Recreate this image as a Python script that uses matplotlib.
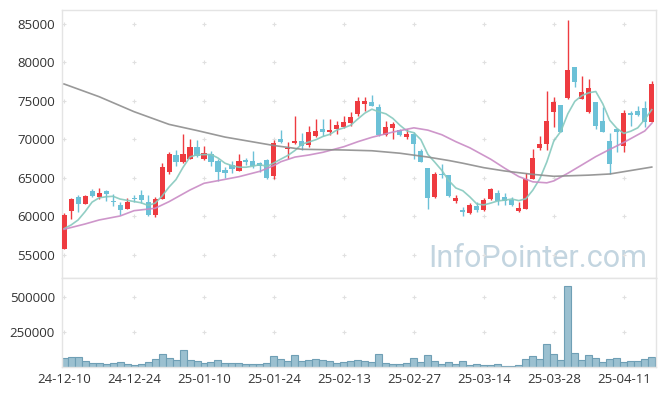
import matplotlib
matplotlib.use('Agg')
import matplotlib.pyplot as plt
import numpy as np
import pandas as pd

plt.rcParams['font.family'] = ['Open Sans', 'DejaVu Sans']

# KRX trading days, Dec 10 2024 .. Apr 17 2025
holidays = ['2024-12-25', '2024-12-31', '2025-01-01', '2025-01-27', '2025-01-28',
            '2025-01-29', '2025-01-30', '2025-03-03']
dates = pd.bdate_range('2024-12-10', '2025-04-17', freq='C', holidays=holidays)

opens = [55800, 60700, 62500, 61600, 63300, 62500, 63300, 62000, 61500, 61000,
         62400, 62800, 61900, 60200, 62300, 65800, 68000, 67000, 67500, 69000,
         67400, 68100, 67200, 66000, 66700, 65900, 67300, 67200, 66900, 67300,
         65300, 70100, 68700, 69500, 69800, 69300, 70400, 71400, 70900, 71400,
         71600, 72100, 73300, 74600, 74900, 74200, 70600, 71500, 71200, 70300,
         70700, 68500, 66300, 62500, 65500, 65400, 62000, 60800, 60400, 61300,
         60800, 62300, 63000, 62500, 62100, 60700, 61000, 64900, 68900, 69400,
         73600, 74500, 75400, 79400, 75300, 73500, 74900, 72400, 69800, 71300,
         69100, 73400, 73700, 74100, 72300]
highs = [60400, 62400, 62800, 62800, 63500, 63700, 63400, 62900, 61800, 62400,
         62800, 63400, 62800, 62500, 66900, 68400, 68600, 70700, 70000, 69900,
         69100, 68500, 67500, 66400, 67200, 68100, 67600, 68500, 67100, 67400,
         69900, 71200, 69600, 73000, 70800, 71800, 72600, 72700, 72600, 72400,
         73000, 73500, 75500, 75500, 75800, 74600, 72400, 72300, 71400, 71400,
         71000, 68800, 66300, 65800, 66800, 65400, 62800, 61200, 61700, 61900,
         62400, 63700, 63400, 63000, 62500, 61800, 65600, 68700, 70400, 76300,
         75500, 74500, 85500, 79400, 78300, 77900, 74900, 74200, 70800, 71400,
         73800, 73700, 74400, 75000, 77600]
lows = [55700, 59700, 60600, 61600, 62500, 62200, 62000, 61400, 60200, 61000,
        61900, 61700, 60000, 59900, 62200, 65500, 66600, 66900, 67400, 67700,
        67300, 66600, 64600, 65000, 65600, 65900, 66700, 66300, 65800, 64900,
        64800, 69500, 67400, 69400, 68600, 69000, 70300, 70400, 70600, 70700,
        71500, 71700, 73100, 73700, 74300, 70500, 70500, 70100, 70500, 70100,
        67500, 67000, 61000, 62400, 65000, 62500, 61700, 60100, 60300, 60600,
        60700, 62100, 61500, 61500, 61400, 60600, 60900, 64800, 68600, 68600,
        71600, 70900, 75300, 76800, 75200, 73400, 71300, 70900, 65500, 68400,
        68400, 71700, 73100, 71600, 72200]
closes = [60200, 62200, 61600, 62600, 62600, 63000, 62900, 61900, 60800, 61800,
          62200, 62100, 60200, 62200, 66400, 68100, 67000, 68100, 69000, 67800,
          68200, 67100, 65800, 65600, 66200, 67200, 67100, 66500, 66600, 65000,
          69500, 69600, 68900, 69800, 69100, 70900, 71100, 71000, 71200, 71900,
          72300, 72900, 75000, 75000, 74400, 70600, 71600, 72000, 70600, 70700,
          69400, 67100, 62400, 65500, 65400, 62700, 62400, 60600, 61500, 60800,
          62100, 63600, 62000, 62000, 61500, 61100, 64800, 67600, 69400, 72400,
          74800, 71000, 79000, 77500, 76100, 76700, 71800, 71000, 66800, 70900,
          73400, 73200, 73200, 72300, 77200]
volumes = [64, 71, 71, 45, 29, 29, 21, 29, 36, 21,
           14, 21, 36, 57, 93, 64, 52, 121, 52, 43,
           29, 36, 50, 29, 29, 29, 21, 26, 21, 29,
           79, 57, 43, 86, 43, 50, 57, 50, 43, 29,
           36, 43, 52, 43, 36, 93, 29, 21, 21, 29,
           64, 36, 86, 43, 21, 36, 21, 43, 14, 21,
           14, 14, 21, 7, 7, 14, 57, 79, 57, 164,
           93, 50, 579, 100, 50, 86, 64, 36, 57, 64,
           36, 43, 43, 57, 71]
volumes = [v * 1000 for v in volumes]

# closes before the window, needed for the first 5-day averages
prev_closes = [59850, 58350, 57200, 56400]

# 20-day and 60-day averages
ma20_idx = [0, 3, 5, 8, 10, 13, 15, 18, 20, 22, 25, 28, 30, 31, 33, 35, 37, 40, 42,
            44, 47, 50, 52, 54, 56, 58, 61, 63, 65, 67, 69, 70, 72, 74, 76, 78, 80,
            82, 83, 84]
ma20 = [58310, 59000, 59520, 60040, 60730, 61040, 61900, 63420, 64290, 64630,
        65150, 65850, 66600, 67100, 67700, 67970, 68320, 69050, 69700, 70270,
        70950, 71500, 71200, 70600, 69700, 68900, 67410, 66240, 65160, 64480,
        64350, 64600, 65590, 66670, 67760, 68700, 69600, 70600, 71090, 72090]
ma60_idx = [0, 5, 10, 15, 19, 23, 30, 34, 40, 44, 48, 52, 55, 57, 60, 63, 67, 70,
            75, 78, 81, 84]
ma60 = [77200, 75550, 73600, 71950, 71150, 70300, 69200, 68710, 68620, 68520,
        68200, 67700, 67250, 66900, 66320, 65890, 65450, 65200, 65350, 65500,
        65950, 66400]

red = '#ee3b40'
blue = '#6cc1d7'
grid_c = '#e0e0e0'
spine_c = '#e4e4e4'
text_c = '#333333'

o = np.array(opens)
c = np.array(closes)
x = np.arange(len(dates))
ma5 = pd.Series(prev_closes + closes).rolling(5).mean().values[len(prev_closes):]

fig = plt.figure(figsize=(6.65, 3.96), dpi=100)
ax = fig.add_axes([0.0932, 0.298, 0.8932, 0.6768])
axv = fig.add_axes([0.0932, 0.0725, 0.8932, 0.2255], sharex=ax)

col = np.where(c >= o, red, blue)
ax.vlines(x, lows, highs, colors=col, linewidth=1, zorder=2)
body = np.abs(c - o)
h = np.maximum(body, 150)
ax.bar(x, h, bottom=np.minimum(o, c) - (h - body) / 2, width=0.72,
       color=col, linewidth=0, zorder=3)

ax.plot(x, ma5, color='#86c9be', lw=1.2, alpha=0.9, zorder=4)
ax.plot(ma20_idx, ma20, color='#c98bc5', lw=1.2, alpha=0.9, zorder=4)
ax.plot(ma60_idx, ma60, color='#8e8e8e', lw=1.2, alpha=0.9, zorder=4)

axv.bar(x, volumes, width=1.0, color='#9bc0d0', edgecolor='#6f9fb5',
        linewidth=0.8, zorder=2)

xt = x[::10]
ax.set_xlim(-0.3, 84.6)
ax.set_ylim(51980, 86820)
axv.set_ylim(0, 636000)

pt = np.arange(55000, 85001, 5000)
ax.set_yticks(pt)
ax.set_yticklabels([str(v) for v in pt])
vt = [250000, 500000]
axv.set_yticks(vt)
axv.set_yticklabels([str(v) for v in vt])
axv.set_xticks(xt)
axv.set_xticklabels(dates[::10].strftime('%y-%m-%d'))

gx, gy = np.meshgrid(xt, pt)
ax.scatter(gx.ravel(), gy.ravel(), marker='+', s=9, color=grid_c, lw=0.8, zorder=1)
gx, gy = np.meshgrid(xt, vt)
axv.scatter(gx.ravel(), gy.ravel(), marker='+', s=9, color=grid_c, lw=0.8, zorder=1)

for a in (ax, axv):
    for s in a.spines.values():
        s.set_color(spine_c)
        s.set_linewidth(1)
    a.tick_params(length=0, colors=text_c, labelsize=9.5, pad=5)
ax.tick_params(labelbottom=False)
axv.tick_params(axis='x', pad=4)

ax.text(0.985, 0.041, 'InfoPointer.com', transform=ax.transAxes, ha='right',
        va='baseline', fontsize=22, family='Roboto', color='#c3d5e0', zorder=0)

fig.savefig('out.png', dpi=100)
